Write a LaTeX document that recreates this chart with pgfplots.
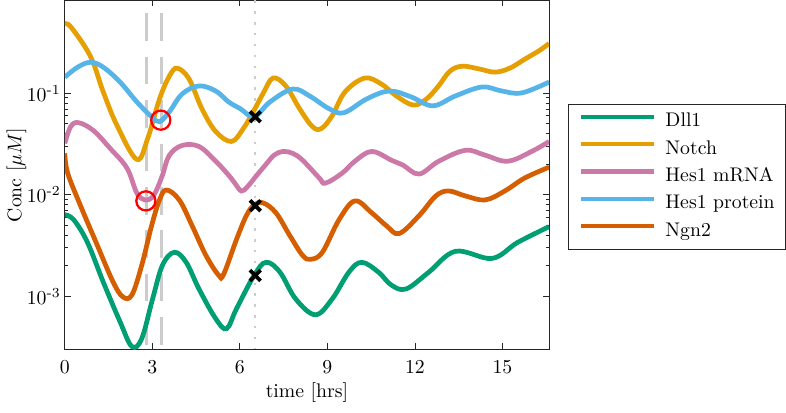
\documentclass[border=0pt]{standalone}
\usepackage{amsmath}
\usepackage{pgfplots}
\pgfplotsset{compat=1.18}

\definecolor{cDll}{RGB}{0,158,115}
\definecolor{cNotch}{RGB}{230,159,0}
\definecolor{cmRNA}{RGB}{204,121,167}
\definecolor{cProt}{RGB}{86,180,233}
\definecolor{cNgn}{RGB}{213,94,0}
\definecolor{axgray}{gray}{0.15}
\definecolor{refgray}{gray}{0.8}

\pgfplotsset{
  longleg/.style={legend image code/.code={%
    \draw[##1, line width=2.2pt] (0pt,2.6pt) -- (37pt,2.6pt);}},
  curve/.style={line width=2.4pt, smooth, tension=0.6, longleg},
}

\begin{document}
\begin{tikzpicture}
\begin{axis}[
  scale only axis,
  width=245.5pt, height=176.8pt,
  ymode=log,
  xmin=0, xmax=16.6,
  ymin=3e-4, ymax=0.82,
  xtick={0,3,6,9,12,15},
  ytick={1e-3,1e-2,1e-1},
  yticklabels={$10^{\text{-}3}$,$10^{\text{-}2}$,$10^{\text{-}1}$},
  tick pos=both,
  tick align=inside,
  major tick length=3pt,
  minor tick length=1.6pt,
  axis line style={axgray, line width=0.5pt},
  every tick/.style={axgray, line width=0.4pt},
  xticklabel style={yshift=-2.5pt},
  yticklabel style={xshift=1.5pt},
  xlabel={time [hrs]},
  ylabel={Conc [$\mu M$]},
  every axis x label/.style={at={(axis description cs:0.5,-0.124)}, anchor=center},
  every axis y label/.style={at={(axis description cs:-0.0998,0.5)}, rotate=90, anchor=center},
  legend cell align=left,
  legend style={at={(axis description cs:1.0387,0.7045)}, anchor=north west,
    draw=axgray, line width=0.5pt, row sep=4.875pt, column sep=4.5pt,
    inner xsep=5.5pt, inner ysep=4.5pt,
    nodes={inner sep=0pt, text height=7pt, text depth=2pt}},
]

% reference times
\draw[refgray, line width=1.5pt, dash pattern=on 14pt off 8pt, dash phase=15.5pt]
  (axis cs:2.81,0.82) -- (axis cs:2.81,3e-4);
\draw[refgray, line width=1.5pt, dash pattern=on 14pt off 8pt, dash phase=15.5pt]
  (axis cs:3.32,0.82) -- (axis cs:3.32,3e-4);
\draw[refgray, line width=1.1pt, dash pattern=on 1.2pt off 4.3pt]
  (axis cs:6.53,0.82) -- (axis cs:6.53,3e-4);

% Dll1
\addplot[cDll, curve] coordinates {
(0,0.00635) (0.304,0.00568) (0.778,0.00339) (1.319,0.00138) (1.894,0.000561)
(2.30,0.000320) (2.638,0.000383) (3.01,0.000941) (3.348,0.00202) (3.754,0.00271)
(4.16,0.00216) (4.599,0.00118) (5.174,0.000601) (5.546,0.000480) (5.884,0.000752)
(6.493,0.00161) (6.899,0.00216) (7.372,0.00173) (7.913,0.000941) (8.59,0.000657)
(9.165,0.000941) (9.74,0.00173) (10.18,0.00216) (10.75,0.00173) (11.19,0.00129)
(11.70,0.00118) (12.48,0.00173) (13.39,0.00277) (14.64,0.00236) (15.52,0.00339)
(16.6,0.00485)
};
\addlegendentry{Dll1}

% Notch
\addplot[cNotch, curve] coordinates {
(0,0.474) (0.2,0.453) (0.879,0.231) (1.319,0.103) (1.792,0.048)
(2.469,0.0223) (2.841,0.0358) (3.247,0.0880) (3.585,0.1475) (3.855,0.1766)
(4.261,0.138) (4.701,0.0703) (5.174,0.0419) (5.715,0.0335) (6.12,0.0449)
(6.46,0.0657) (6.80,0.100) (7.136,0.141) (7.575,0.118) (8.049,0.0703)
(8.488,0.0469) (8.793,0.0449) (9.165,0.0601) (9.604,0.103) (10.281,0.141)
(10.856,0.123) (11.363,0.0941) (11.94,0.0765) (12.38,0.087) (12.80,0.117)
(13.2,0.165) (13.63,0.1847) (14.24,0.1726) (14.75,0.1614) (15.25,0.1766)
(15.76,0.216) (16.27,0.264) (16.6,0.3096)
};
\addlegendentry{Notch}

% Hes1 mRNA
\addplot[cmRNA, curve] coordinates {
(0,0.0320) (0.203,0.0469) (0.473,0.0513) (0.981,0.0429) (1.556,0.0286)
(2.131,0.0183) (2.469,0.0104) (2.739,0.00889) (2.976,0.00931) (3.145,0.01114)
(3.348,0.0156) (3.585,0.0245) (4.024,0.0306) (4.599,0.0299) (5.174,0.0214)
(5.614,0.0156) (5.85,0.01274) (6.05,0.01089) (6.25,0.0119) (6.56,0.0153)
(6.90,0.0200) (7.17,0.0245) (7.47,0.0267) (7.81,0.0256) (8.15,0.0219)
(8.725,0.0146) (8.928,0.0130) (9.503,0.0163)
(9.943,0.0214) (10.518,0.0267) (11.194,0.0219) (11.6,0.0195) (12.141,0.0160)
(12.817,0.0214) (13.73,0.0274) (14.41,0.0245) (15.18,0.0214) (16.0,0.0267)
(16.6,0.0335)
};
\addlegendentry{Hes1 mRNA}

% Hes1 protein
\addplot[cProt, curve] coordinates {
(0,0.144) (0.44,0.1806) (0.879,0.2019) (1.319,0.1806) (1.894,0.1289)
(2.469,0.0822) (2.976,0.0587) (3.247,0.0525) (3.585,0.0657) (4.024,0.0984)
(4.599,0.118) (5.174,0.1052) (5.614,0.0822) (6.02,0.0703) (6.493,0.0587)
(7.034,0.0822) (7.81,0.110) (8.387,0.0941) (9.063,0.0703) (9.57,0.0643)
(10.35,0.0880) (11.13,0.1052) (11.87,0.0920) (12.614,0.0752) (13.39,0.0941)
(14.3,0.1152) (14.98,0.1052) (15.66,0.1007) (16.6,0.1289)
};
\addlegendentry{Hes1 protein}

% Ngn2
\addplot[cNgn, curve] coordinates {
(0,0.0256) (0.101,0.0163) (0.541,0.00778) (1.116,0.00317) (1.657,0.00138)
(1.995,0.000984) (2.30,0.00103) (2.638,0.00202) (2.976,0.00496) (3.247,0.00889)
(3.483,0.01114) (3.923,0.00889) (4.363,0.00496) (4.836,0.00253) (5.276,0.00161)
(5.445,0.00165) (5.884,0.00362) (6.222,0.00621) (6.493,0.00795) (6.797,0.00832)
(7.237,0.00664) (7.71,0.00397) (8.15,0.00253) (8.42,0.00231) (8.827,0.00271)
(9.401,0.00568) (9.943,0.00870) (10.518,0.00664) (11.02,0.00496) (11.46,0.00415)
(12.14,0.00621) (12.716,0.00973) (13.155,0.01089) (13.73,0.00973) (14.41,0.00889)
(15.08,0.01089) (15.76,0.0146) (16.6,0.0187)
};
\addlegendentry{Ngn2}

% event markers
\addplot[only marks, mark=o, mark size=4.85pt, red, line width=1.15pt, forget plot]
  coordinates {(3.29,0.0543) (2.78,0.0087)};
\addplot[only marks, mark=x, mark size=3.8pt, black, line width=1.9pt, forget plot]
  coordinates {(6.53,0.0587) (6.53,0.0078) (6.53,0.0016)};

\end{axis}
\path ([yshift=-2pt]current bounding box.south);
\end{tikzpicture}
\end{document}
